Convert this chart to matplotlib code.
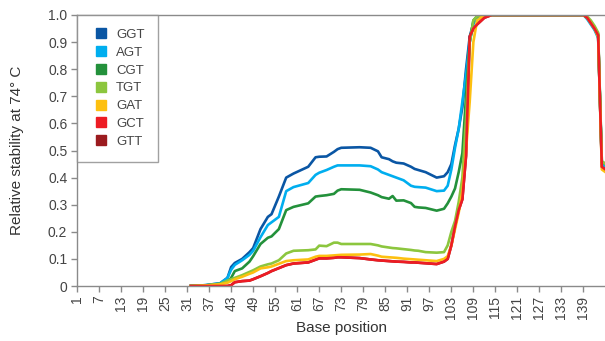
import matplotlib.pyplot as plt
from matplotlib.lines import Line2D

plt.rcParams['font.family'] = ['Liberation Sans', 'DejaVu Sans']

pos = [32, 36, 40, 42, 43, 44, 46, 48, 49, 51, 53, 54, 56, 58, 60, 64, 66, 67,
       69, 71, 72, 73, 78, 81, 83, 84, 86, 87, 88, 90, 92, 93, 94, 96, 99, 101,
       102, 103, 104, 105, 106, 107, 108, 109, 110, 112, 114, 139, 140, 141,
       142, 143, 144, 145]

ggt = [0, 0.003, 0.01, 0.03, 0.07, 0.085, 0.10, 0.125, 0.14, 0.21, 0.255, 0.265,
       0.33, 0.40, 0.415, 0.44, 0.475, 0.477, 0.478, 0.495, 0.505, 0.51, 0.512,
       0.51, 0.497, 0.475, 0.468, 0.46, 0.455, 0.452, 0.44, 0.432, 0.428, 0.42,
       0.40, 0.405, 0.42, 0.45, 0.52, 0.58, 0.66, 0.80, 0.92, 0.97, 0.99, 1.0,
       1.0, 1.0, 0.99, 0.97, 0.95, 0.92, 0.45, 0.44]
agt = [0, 0.003, 0.01, 0.03, 0.06, 0.078, 0.095, 0.115, 0.13, 0.18, 0.225, 0.235,
       0.255, 0.35, 0.365, 0.38, 0.41, 0.418, 0.428, 0.44, 0.445, 0.445, 0.445,
       0.442, 0.43, 0.42, 0.41, 0.405, 0.40, 0.39, 0.37, 0.366, 0.365, 0.363,
       0.35, 0.352, 0.37, 0.43, 0.51, 0.58, 0.68, 0.78, 0.90, 0.97, 0.99, 1.0,
       1.0, 1.0, 0.985, 0.965, 0.945, 0.915, 0.45, 0.44]
cgt = [0, 0.002, 0.008, 0.015, 0.03, 0.055, 0.065, 0.09, 0.11, 0.155, 0.178,
       0.183, 0.21, 0.28, 0.292, 0.305, 0.33, 0.332, 0.335, 0.34, 0.352, 0.357,
       0.355, 0.345, 0.335, 0.328, 0.322, 0.332, 0.315, 0.316, 0.306, 0.292,
       0.29, 0.288, 0.278, 0.285, 0.305, 0.33, 0.36, 0.42, 0.49, 0.70, 0.90,
       0.98, 0.995, 1.0, 1.0, 1.0, 0.99, 0.975, 0.955, 0.93, 0.46, 0.45]
tgt = [0, 0.002, 0.008, 0.02, 0.025, 0.03, 0.04, 0.052, 0.058, 0.072, 0.08,
       0.083, 0.095, 0.12, 0.13, 0.132, 0.135, 0.149, 0.147, 0.16, 0.16, 0.155,
       0.155, 0.155, 0.15, 0.146, 0.142, 0.14, 0.139, 0.136, 0.133, 0.131, 0.13,
       0.125, 0.123, 0.125, 0.15, 0.20, 0.24, 0.31, 0.40, 0.62, 0.90, 0.98,
       0.995, 1.0, 1.0, 1.0, 0.995, 0.98, 0.96, 0.935, 0.46, 0.45]
gat = [0, 0.002, 0.006, 0.012, 0.018, 0.025, 0.034, 0.045, 0.05, 0.065, 0.069,
       0.072, 0.082, 0.092, 0.095, 0.098, 0.108, 0.111, 0.111, 0.113, 0.114,
       0.115, 0.116, 0.118, 0.112, 0.108, 0.106, 0.105, 0.104, 0.101, 0.099,
       0.098, 0.097, 0.095, 0.092, 0.10, 0.11, 0.15, 0.21, 0.27, 0.35, 0.50,
       0.68, 0.90, 0.98, 1.0, 1.0, 1.0, 0.99, 0.97, 0.95, 0.92, 0.43, 0.42]
gct = [0, 0, 0, 0, 0.003, 0.014, 0.018, 0.02, 0.025, 0.036, 0.048, 0.055, 0.066,
       0.077, 0.083, 0.087, 0.097, 0.102, 0.102, 0.104, 0.106, 0.106, 0.103,
       0.098, 0.095, 0.094, 0.092, 0.091, 0.09, 0.089, 0.087, 0.087, 0.086,
       0.084, 0.081, 0.09, 0.10, 0.15, 0.22, 0.28, 0.32, 0.48, 0.92, 0.95,
       0.965, 0.99, 1.0, 1.0, 0.99, 0.97, 0.95, 0.925, 0.44, 0.43]
gtt = [0, 0, 0, 0, 0.003, 0.014, 0.018, 0.02, 0.025, 0.036, 0.048, 0.055, 0.066,
       0.077, 0.083, 0.087, 0.097, 0.102, 0.102, 0.104, 0.106, 0.106, 0.103,
       0.098, 0.095, 0.094, 0.092, 0.091, 0.09, 0.089, 0.087, 0.087, 0.086,
       0.084, 0.081, 0.09, 0.10, 0.15, 0.22, 0.28, 0.32, 0.48, 0.92, 0.95,
       0.965, 0.99, 1.0, 1.0, 0.99, 0.97, 0.95, 0.925, 0.44, 0.43]

names = ['GGT', 'AGT', 'CGT', 'TGT', 'GAT', 'GCT', 'GTT']
series = [ggt, agt, cgt, tgt, gat, gct, gtt]
colors = ['#0a56a4', '#00aeef', '#23913b', '#8cc63e', '#fdc010', '#ed1c24', '#9b1b1f']

xticks = list(range(1, 140, 6))

fig = plt.figure(figsize=(6.05, 3.41), dpi=100)
ax = fig.add_axes([77 / 605, 1 - 286 / 341, 528.5 / 605, 271 / 341])

# GTT sits underneath everything, GCT last on top
ax.plot(pos, gtt, color=colors[6], lw=1.9, solid_joinstyle='round')
for name, vals, c in zip(names[:6], series[:6], colors[:6]):
    ax.plot(pos, vals, color=c, lw=1.9, solid_joinstyle='round')

ax.set_xlim(1, 145)
ax.set_ylim(0, 1.0)
ax.set_xticks(xticks)
ax.set_xticklabels([str(t) for t in xticks], rotation=90)
ax.set_yticks([i / 10 for i in range(11)])
ax.set_yticklabels(['0'] + ['%.1f' % (i / 10) for i in range(1, 11)])

gray = '#8a8a8a'
for s in ['left', 'bottom', 'top']:
    ax.spines[s].set_color(gray)
    ax.spines[s].set_linewidth(1.0)
ax.spines['right'].set_visible(False)
ax.tick_params(colors=gray, labelcolor='#444444', labelsize=10, length=4, width=1, pad=3)

ax.set_xlabel('Base position', fontsize=11, color='#333333')
ax.set_ylabel('Relative stability at 74\u00b0 C', fontsize=11, color='#333333')
ax.xaxis.set_label_coords(0.5, -0.13)
ax.yaxis.set_label_coords(-0.10, 0.5)

handles = [Line2D([], [], marker='s', color=c, markersize=7, linestyle='none') for c in colors]
leg = ax.legend(handles, names, loc='upper left', bbox_to_anchor=(0, 1), borderaxespad=0,
                fontsize=9.5, frameon=True, fancybox=False, labelspacing=0.42,
                borderpad=1.05, handlelength=1.6, handletextpad=0.3)
leg.get_frame().set_edgecolor(gray)
leg.get_frame().set_linewidth(1.0)
for t in leg.get_texts():
    t.set_color('#444444')

fig.savefig('out.png', dpi=100)
